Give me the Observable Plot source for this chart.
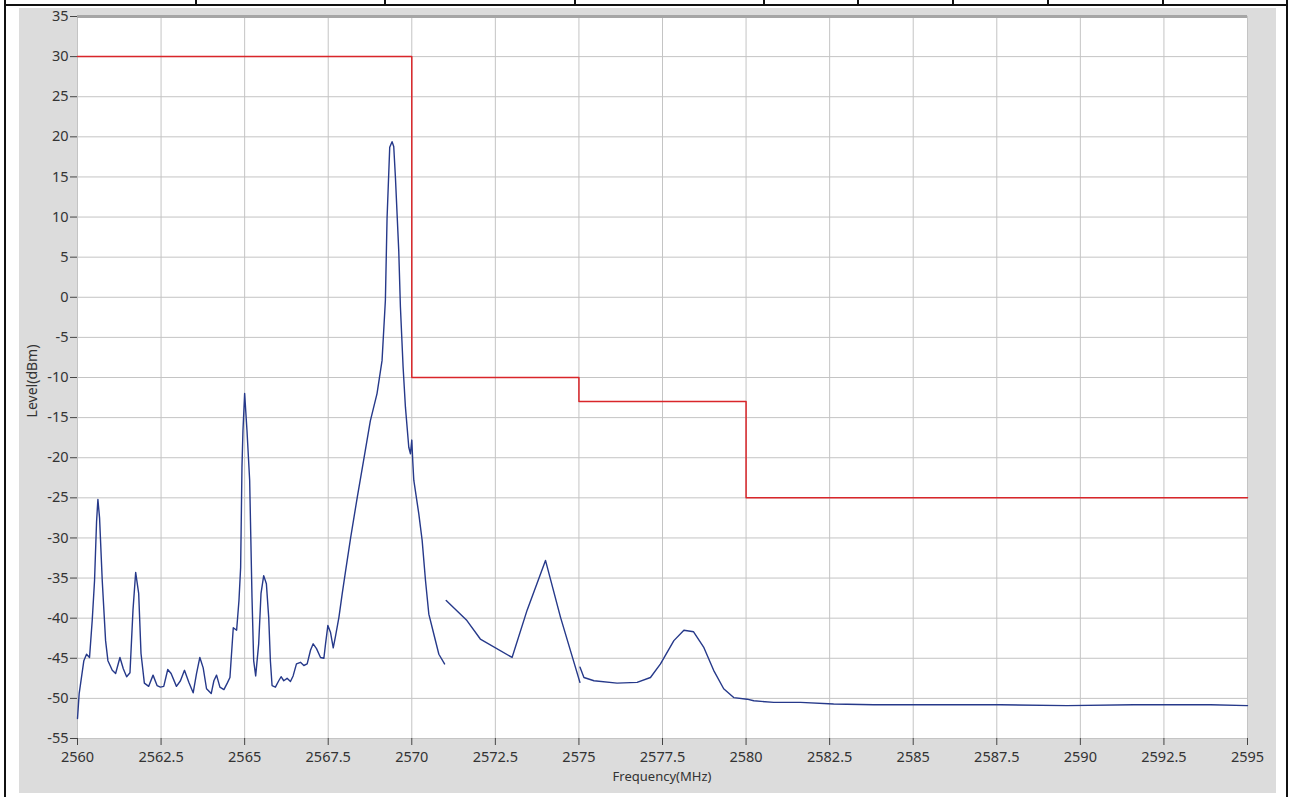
<!DOCTYPE html>
<html>
<head>
<meta charset="utf-8">
<script src="https://cdn.jsdelivr.net/npm/d3@7"></script>
<script src="https://cdn.jsdelivr.net/npm/@observablehq/plot@0.6"></script>
<style>
  html, body { margin: 0; padding: 0; background: #ffffff; }
  #page { position: relative; width: 1290px; height: 797px; overflow: hidden; font-family: "Noto Sans", "Open Sans", sans-serif; }
  .blk { position: absolute; background: #111; }
  #panel { position: absolute; left: 19px; top: 8px; width: 1257px; height: 785px; background: #dcdcdc; }
  #chart { position: absolute; left: 0; top: 0; }
  .axt { position: absolute; color: #333; white-space: nowrap; }
  #ylab { left: 31px; top: 381px; font-size: 14px; transform: translate(-50%, -50%) rotate(-90deg); }
  #xlab { left: 662px; top: 776px; font-size: 13px; transform: translate(-50%, -50%); }
</style>
</head>
<body>
<div id="page">
  <div id="panel"></div>
  <div class="blk" style="left:4px;top:0;width:2px;height:797px"></div>
  <div class="blk" style="left:1286px;top:0;width:2px;height:797px"></div>
  <div class="blk" style="left:4px;top:4px;width:1284px;height:2px"></div>
  <div id="dividers"></div>
  <div id="chart"></div>
  <div class="axt" id="ylab">Level(dBm)</div>
  <div class="axt" id="xlab">Frequency(MHz)</div>
</div>
<script>
// ---- data ----
const xTicks = [2560, 2562.5, 2565, 2567.5, 2570, 2572.5, 2575, 2577.5, 2580, 2582.5, 2585, 2587.5, 2590, 2592.5, 2595];
const yTicks = [35, 30, 25, 20, 15, 10, 5, 0, -5, -10, -15, -20, -25, -30, -35, -40, -45, -50, -55];

// limit mask (step)
const maskFreq  = [2560, 2570, 2575, 2580, 2595];
const maskLevel = [30, -10, -13, -25, -25];

// measured spectrum, segment 1
const seg1Freq = [2560.00,2560.05,2560.19,2560.27,2560.36,2560.44,2560.51,2560.57,2560.61,2560.66,2560.74,2560.84,2560.91,2561.04,2561.14,2561.27,2561.37,2561.47,2561.57,2561.66,2561.74,2561.83,2561.90,2562.00,2562.13,2562.26,2562.38,2562.48,2562.58,2562.70,2562.80,2562.96,2563.08,2563.20,2563.33,2563.46,2563.56,2563.66,2563.76,2563.86,2564.00,2564.08,2564.16,2564.26,2564.38,2564.48,2564.56,2564.66,2564.76,2564.83,2564.88,2564.92,2564.95,2565.00,2565.07,2565.15,2565.22,2565.27,2565.33,2565.42,2565.49,2565.57,2565.65,2565.72,2565.77,2565.82,2565.92,2566.02,2566.09,2566.17,2566.27,2566.37,2566.45,2566.55,2566.67,2566.77,2566.87,2566.97,2567.05,2567.15,2567.27,2567.37,2567.42,2567.49,2567.57,2567.65,2567.72,2567.82,2567.92,2568.02,2568.17,2568.37,2568.56,2568.76,2568.96,2569.11,2569.21,2569.26,2569.34,2569.41,2569.46,2569.51,2569.61,2569.66,2569.74,2569.81,2569.91,2569.96,2570.00,2570.03,2570.06,2570.21,2570.31,2570.41,2570.51,2570.66,2570.81,2570.98];
const seg1Level = [-52.5,-49.4,-45.3,-44.5,-44.9,-40.3,-35.3,-28.0,-25.2,-27.5,-35.3,-42.8,-45.3,-46.5,-46.9,-44.9,-46.3,-47.3,-46.8,-39.0,-34.3,-36.9,-44.4,-48.1,-48.5,-47.1,-48.4,-48.6,-48.5,-46.4,-46.9,-48.5,-47.8,-46.5,-48.0,-49.3,-46.9,-44.9,-46.2,-48.8,-49.4,-47.8,-47.1,-48.6,-48.9,-48.1,-47.4,-41.2,-41.5,-37.8,-33.7,-21.2,-16.6,-12.0,-16.6,-22.8,-37.4,-45.3,-47.2,-43.2,-36.9,-34.7,-35.7,-39.9,-45.3,-48.4,-48.6,-47.8,-47.3,-47.8,-47.5,-47.9,-47.2,-45.7,-45.5,-45.9,-45.7,-44.0,-43.2,-43.8,-44.9,-45.0,-43.2,-40.9,-41.8,-43.7,-42.2,-39.9,-36.9,-34.1,-30.0,-24.9,-20.3,-15.4,-12.0,-7.9,-0.4,9.8,18.7,19.4,18.8,15.0,5.8,-1.2,-8.7,-13.7,-18.7,-19.5,-17.8,-20.5,-22.8,-27.0,-30.3,-35.3,-39.5,-42.0,-44.5,-45.7];

// segment 2
const seg2Freq  = [2571.03, 2571.65, 2572.05, 2573.00, 2573.45, 2574.00, 2574.45, 2575.03];
const seg2Level = [-37.8, -40.3, -42.6, -44.9, -39.0, -32.8, -39.9, -48.0];

// segment 3
const seg3Freq  = [2575.03,2575.15,2575.45,2576.14,2576.74,2577.14,2577.44,2577.84,2578.14,2578.43,2578.73,2579.03,2579.33,2579.63,2580.03,2580.23,2580.83,2581.63,2582.62,2583.82,2585.61,2587.61,2589.60,2591.60,2593.90,2595.00];
const seg3Level = [-46.1,-47.4,-47.8,-48.1,-48.0,-47.4,-45.7,-42.8,-41.5,-41.7,-43.6,-46.5,-48.8,-49.9,-50.1,-50.3,-50.5,-50.5,-50.7,-50.8,-50.8,-50.8,-50.9,-50.8,-50.8,-50.9];

// top table row separators
const dividerX = [195, 384, 574, 763, 857, 952, 1047, 1162];

// ---- build tables ----
const mask = maskFreq.map((f, i) => ({f, v: maskLevel[i]}));
const spectrum = [
  ...seg1Freq.map((f, i) => ({f, v: seg1Level[i], s: 1})),
  ...seg2Freq.map((f, i) => ({f, v: seg2Level[i], s: 2})),
  ...seg3Freq.map((f, i) => ({f, v: seg3Level[i], s: 3}))
];

const dv = document.getElementById("dividers");
dividerX.forEach(x => {
  const d = document.createElement("div");
  d.className = "blk";
  d.style.cssText = `left:${x}px;top:0;width:2px;height:5px`;
  dv.appendChild(d);
});

const fmt = d => String(d);

const chart = Plot.plot({
  width: 1290,
  height: 797,
  marginLeft: 77,
  marginRight: 43,
  marginTop: 16,
  marginBottom: 59,
  style: {background: "transparent", fontFamily: "'Noto Sans', 'Open Sans', sans-serif", color: "#333"},
  x: {domain: [2560, 2595]},
  y: {domain: [-55, 35]},
  marks: [
    Plot.frame({fill: "white", stroke: null}),
    Plot.gridX(xTicks, {stroke: "#c4c4c4", strokeOpacity: 1}),
    Plot.gridY(yTicks, {stroke: "#c4c4c4", strokeOpacity: 1}),
    Plot.ruleY([35], {stroke: "#a6a6a6", strokeWidth: 3}),
    Plot.axisX(xTicks, {tickFormat: fmt, tickSize: 7, tickPadding: 6, fontSize: 14.5, label: null, stroke: "#444", fill: "#333"}),
    Plot.axisY(yTicks, {tickFormat: fmt, tickSize: 7, tickPadding: 2, fontSize: 14.5, label: null, stroke: "#444", fill: "#333"}),
    Plot.line(mask, {x: "f", y: "v", curve: "step-after", stroke: "#d9262a", strokeWidth: 1.5}),
    Plot.line(spectrum, {x: "f", y: "v", z: "s", stroke: "#26398a", strokeWidth: 1.4})
  ]
});
document.getElementById("chart").appendChild(chart);
</script>
</body>
</html>
